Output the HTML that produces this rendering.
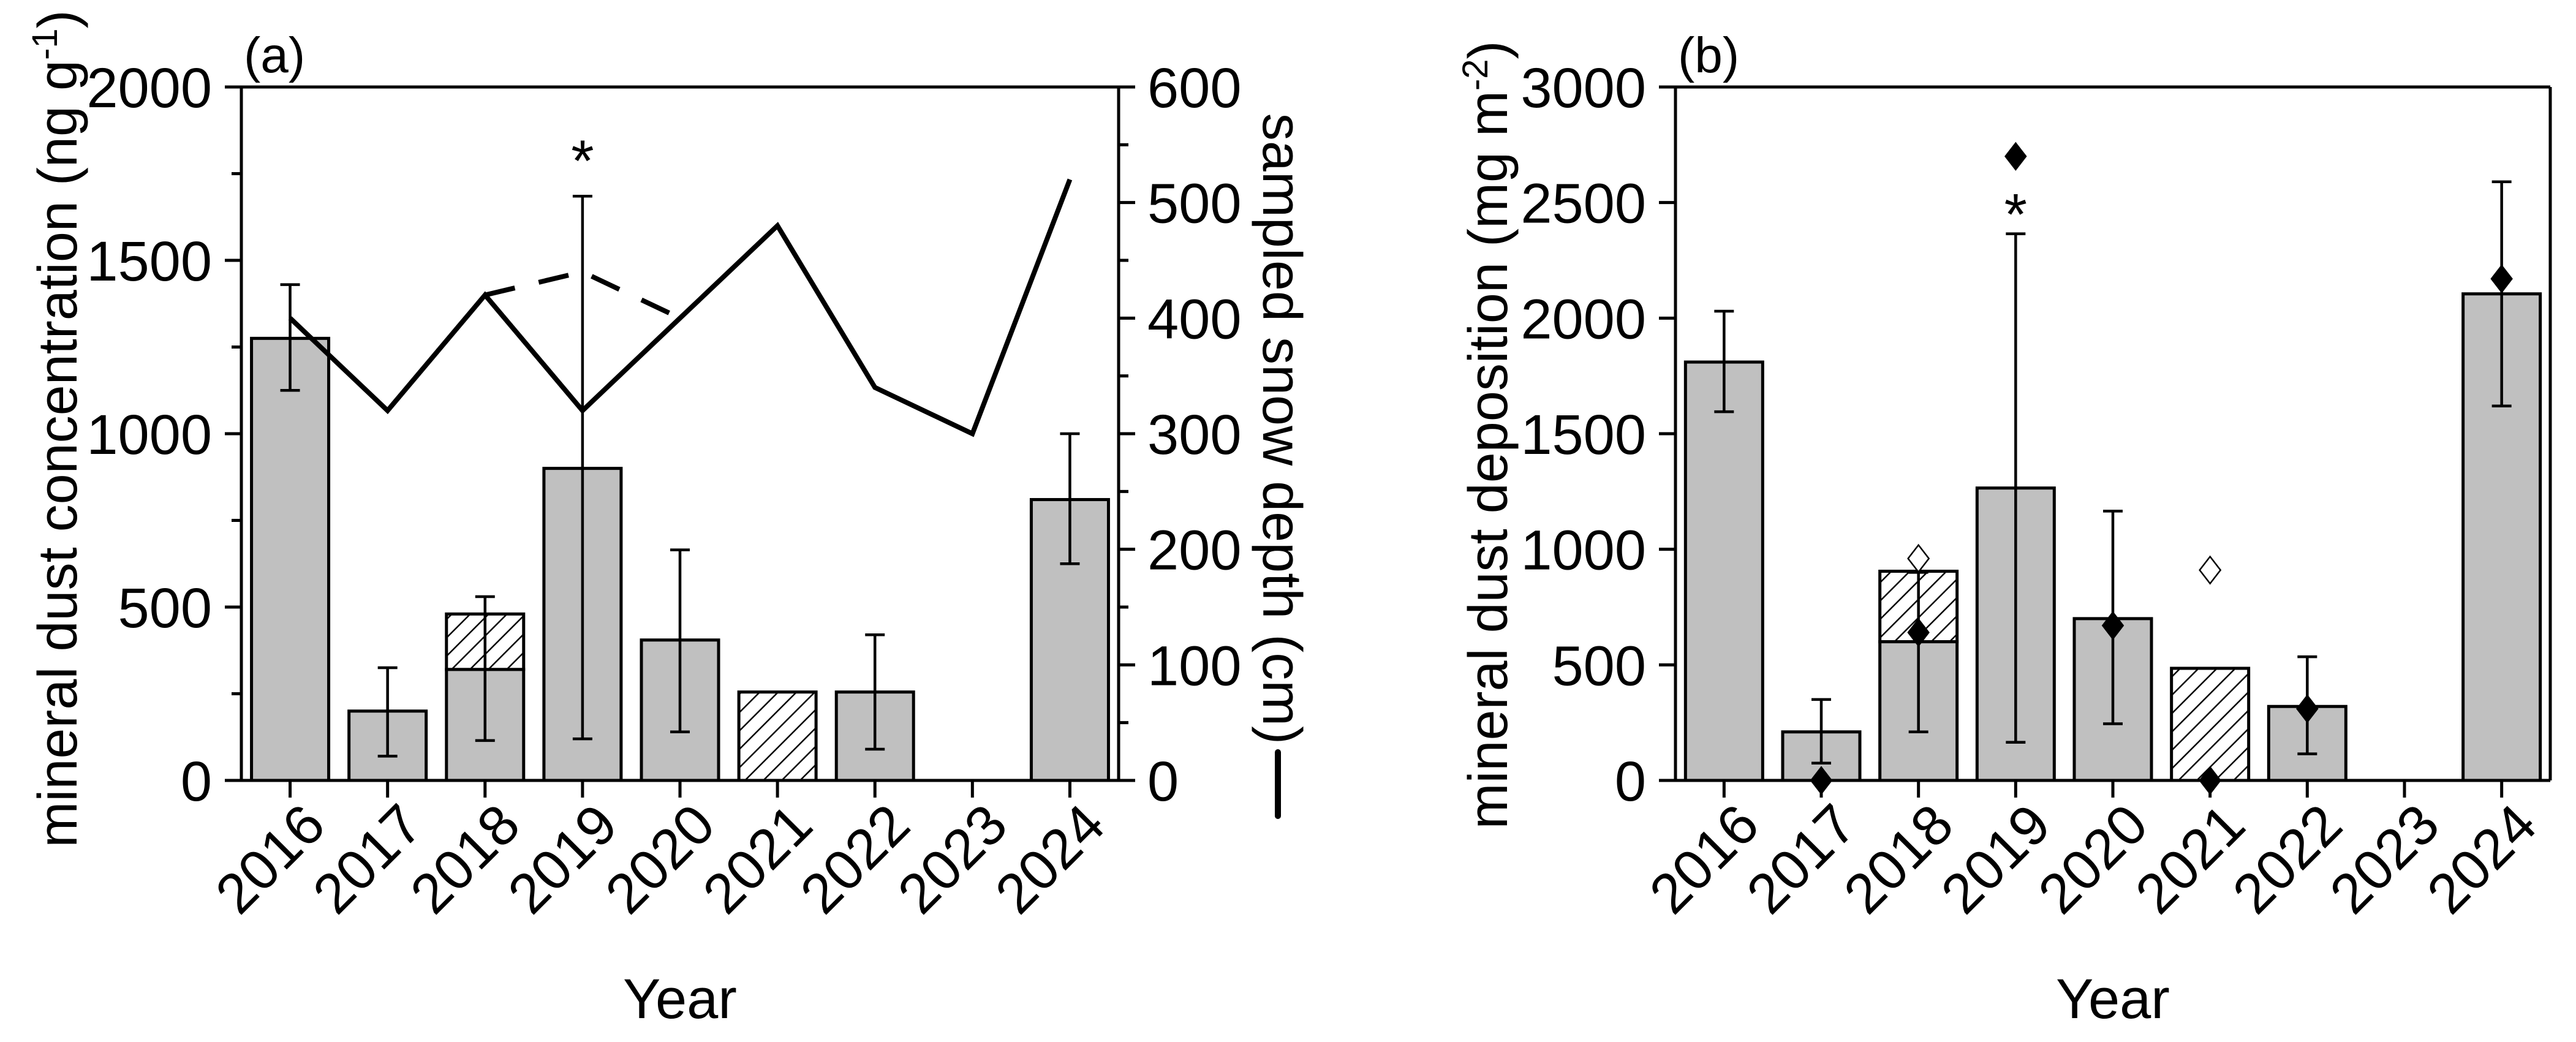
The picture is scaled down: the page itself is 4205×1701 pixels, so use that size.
<!DOCTYPE html>
<html><head><meta charset="utf-8"><style>
html,body{margin:0;padding:0;background:#fff;}
svg text{font-family:"Liberation Sans",sans-serif;fill:#000;}
</style></head><body>
<svg id="chart" width="4205" height="1696" viewBox="0 0 4205 1696" xmlns="http://www.w3.org/2000/svg">
<defs>
<pattern id="hatch" patternUnits="userSpaceOnUse" width="30" height="30">
<rect width="30" height="30" fill="#fff"/>
<path d="M-5,35 L35,-5 M-5,5 L5,-5 M25,35 L35,25" stroke="#000" stroke-width="2.5"/>
</pattern>
</defs>
<g id="pa"></g>
<g id="pb"></g>
</svg>
<script>
const years = ["2016","2017","2018","2019","2020","2021","2022","2023","2024"];
// Panel a: concentration
const concBar = [1275,200,320,900,405,null,255,null,810];
const concHatchTop = [null,null,480,null,null,255,null,null,null];
const concErrLo = [1125,70,115,120,140,null,90,null,625];
const concErrHi = [1430,325,530,1685,665,null,420,null,1000];
const snowDepth = [400,320,420,320,400,480,340,300,520];
const snowDashed = [null,null,420,440,400,null,null,null,null];
const concTicks = [0,500,1000,1500,2000];
const depthTicks = [0,100,200,300,400,500,600];
// Panel b: deposition
const depBar = [1810,210,600,1265,700,null,320,null,2105];
const depHatchTop = [null,null,905,null,null,485,null,null,null];
const depErrLo = [1595,75,210,165,245,null,115,null,1620];
const depErrHi = [2030,350,900,2365,1165,null,535,null,2590];
const depFilled = [null,0,640,2700,670,0,310,null,2170];
const depOpen = [null,null,960,null,null,910,null,null,null];
const depTicks = [0,500,1000,1500,2000,2500,3000];

const NS="http://www.w3.org/2000/svg";
function mk(parent,tag,attrs,text){const e=document.createElementNS(NS,tag);for(const k in attrs)e.setAttribute(k,attrs[k]);if(text!==undefined)e.textContent=text;parent.appendChild(e);return e;}
const TOP=142,BOT=1274;
const FS=92;

function panel(g,x0,x1,ymax,bars,hatch,elo,ehi,ticks,minorStep,label){
  const n=years.length, bw=(x1-x0)/n;
  const xc=i=>x0+(i+0.5)*bw;
  const y=v=>BOT-(v/ymax)*(BOT-TOP);
  for(let i=0;i<n;i++){
    if(hatch[i]!==null){
      const base=bars[i]!==null?bars[i]:0;
      const r=mk(g,'rect',{x:xc(i)-63,y:y(hatch[i]),width:126,height:y(base)-y(hatch[i]),fill:'url(#hatch)',stroke:'#000','stroke-width':5});
      
      
    }
    if(bars[i]!==null){
      const r=mk(g,'rect',{x:xc(i)-63,y:y(bars[i]),width:126,height:BOT-y(bars[i]),fill:'#c0c0c0',stroke:'#000','stroke-width':5});
      
      
    }
  }
  for(let i=0;i<n;i++){
    if(elo[i]===null)continue;
    const eg=mk(g,'g',{stroke:'#000','stroke-width':4.5});
    
    
    mk(eg,'line',{x1:xc(i),x2:xc(i),y1:y(elo[i]),y2:y(ehi[i])});
    mk(eg,'line',{x1:xc(i)-16,x2:xc(i)+16,y1:y(elo[i]),y2:y(elo[i])});
    mk(eg,'line',{x1:xc(i)-16,x2:xc(i)+16,y1:y(ehi[i]),y2:y(ehi[i])});
  }
  const ax=mk(g,'g',{stroke:'#000','stroke-width':5});
  
  
  mk(ax,'line',{x1:x0,x2:x0,y1:TOP,y2:BOT+2});
  mk(ax,'line',{x1:x0-27,x2:x1,y1:BOT,y2:BOT});
  mk(ax,'line',{x1:x0-27,x2:x1,y1:TOP,y2:TOP});
  mk(ax,'line',{x1:x1,x2:x1,y1:TOP,y2:BOT});
  for(let v=0;v<=ymax;v+=minorStep){mk(ax,'line',{x1:x0-(ticks.includes(v)?27:16),x2:x0,y1:y(v),y2:y(v)});}
  for(let i=0;i<n;i++){mk(ax,'line',{x1:xc(i),x2:xc(i),y1:BOT,y2:BOT+28});}
  ticks.forEach(v=>{
    const t=mk(g,'text',{x:x0-48,y:y(v)+33,'font-size':FS,'text-anchor':'end'},String(v));
    
    
  });
  years.forEach((yr,i)=>{
    const tx=xc(i)+62, ty=BOT+78;
    const t=mk(g,'text',{x:tx,y:ty,'font-size':FS,'text-anchor':'end',transform:`rotate(-45 ${tx} ${ty})`},yr);
    
    
  });
  const xt=mk(g,'text',{x:(x0+x1)/2,y:1662,'font-size':92,'text-anchor':'middle'},'Year');
  
  
  const pl=mk(g,'text',{x:x0+4,y:118,'font-size':82},label);
  
  
  return {xc,y};
}

const ga=document.getElementById('pa');
const A=panel(ga,394,1826,2000,concBar,concHatchTop,concErrLo,concErrHi,concTicks,250,'(a)');
const yd=v=>BOT-(v/600)*(BOT-TOP);
const rax=mk(ga,'g',{stroke:'#000','stroke-width':5});


for(let v=0;v<=600;v+=50){mk(rax,'line',{x1:1826,x2:1826+(depthTicks.includes(v)?27:16),y1:yd(v),y2:yd(v)});}
depthTicks.forEach(v=>{
  const t=mk(ga,'text',{x:1873,y:yd(v)+33,'font-size':FS},String(v));
  
  
});
const sp=snowDepth.map((v,i)=>`${A.xc(i)},${yd(v)}`).join(' ');
const sl=mk(ga,'polyline',{points:sp,fill:'none',stroke:'#000','stroke-width':8,'stroke-linejoin':'miter'});


const dp=snowDashed.map((v,i)=>v===null?null:`${A.xc(i)},${yd(v)}`).filter(p=>p).join(' ');
const dl=mk(ga,'polyline',{points:dp,fill:'none',stroke:'#000','stroke-width':8,'stroke-dasharray':'50,40'});


const ast=mk(ga,'text',{x:A.xc(3),y:A.y(1685)-25,'font-size':96,'text-anchor':'middle'},'*');


</script>
<script>
(function(){
const ga=document.getElementById('pa');
const t1=mk(ga,'text',{x:0,y:0,'font-size':90,'text-anchor':'middle',transform:'translate(125 700) rotate(-90)'});


t1.innerHTML='mineral dust concentration (ng g<tspan dy="-32" font-size="58">-1</tspan><tspan dy="32">)</tspan>';
const t2=mk(ga,'text',{x:0,y:0,'font-size':90,'text-anchor':'middle',transform:'translate(2062 700) rotate(90)'},'sampled snow depth (cm)');


const lg=mk(ga,'line',{x1:2086,x2:2086,y1:1228,y2:1332,stroke:'#000','stroke-width':10,'stroke-linecap':'round'});



const gb=document.getElementById('pb');
const B=panel(gb,2735,4163,3000,depBar,depHatchTop,depErrLo,depErrHi,depTicks,500,'(b)');
const t3=mk(gb,'text',{x:0,y:0,'font-size':90,'text-anchor':'middle',transform:'translate(2460 710) rotate(-90)'});


t3.innerHTML='mineral dust deposition (mg m<tspan dy="-32" font-size="58">-2</tspan><tspan dy="32">)</tspan>';
const dia=(cx,cy)=>`${cx},${cy-22} ${cx+17},${cy} ${cx},${cy+22} ${cx-17},${cy}`;
depFilled.forEach((v,i)=>{
  if(v===null)return;
  const p=mk(gb,'polygon',{points:dia(B.xc(i),B.y(v)),fill:'#000',stroke:'#000','stroke-width':2});
  
  
});
depOpen.forEach((v,i)=>{
  if(v===null)return;
  const p=mk(gb,'polygon',{points:dia(B.xc(i),B.y(v)),fill:'#fff',stroke:'#000','stroke-width':2.5});
  
  
});
const ab=mk(gb,'text',{x:B.xc(3),y:B.y(2520)+60,'font-size':96,'text-anchor':'middle'},'*');


})();
</script>
</body></html>
